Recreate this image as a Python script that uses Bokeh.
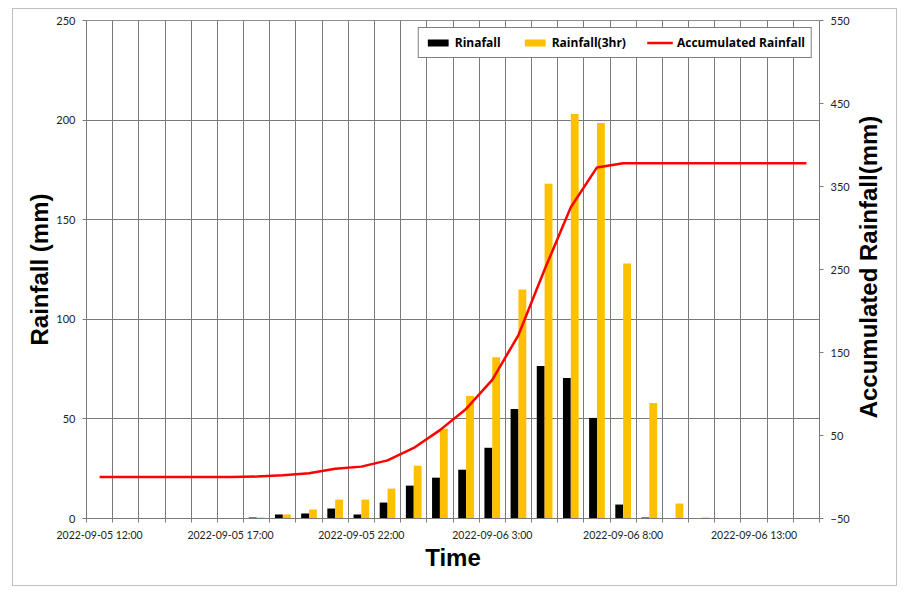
import math
from bokeh.plotting import figure
from bokeh.layouts import row
from bokeh.models import (Range1d, LinearAxis, FixedTicker, Legend, LegendItem,
                          ColumnDataSource, InlineStyleSheet)
from bokeh.core.properties import value
from bokeh.transform import dodge
from bokeh.embed import file_html
from bokeh.resources import INLINE

times = ["2022-09-05 12:00", "2022-09-05 13:00", "2022-09-05 14:00", "2022-09-05 15:00",
         "2022-09-05 16:00", "2022-09-05 17:00", "2022-09-05 18:00", "2022-09-05 19:00",
         "2022-09-05 20:00", "2022-09-05 21:00", "2022-09-05 22:00", "2022-09-05 23:00",
         "2022-09-06 0:00", "2022-09-06 1:00", "2022-09-06 2:00", "2022-09-06 3:00",
         "2022-09-06 4:00", "2022-09-06 5:00", "2022-09-06 6:00", "2022-09-06 7:00",
         "2022-09-06 8:00", "2022-09-06 9:00", "2022-09-06 10:00", "2022-09-06 11:00",
         "2022-09-06 12:00", "2022-09-06 13:00", "2022-09-06 14:00", "2022-09-06 15:00"]
rainfall = [0, 0, 0, 0, 0, 0, 0.5, 2, 2.5, 5, 2, 8, 16.5, 20.5, 24.5, 35.5, 55, 76.5,
            70.5, 50.5, 7, 0.5, 0, 0, 0, 0, 0, 0]
rainfall_3hr = [0, 0, 0, 0, 0, 0, 0.5, 2, 4.5, 9.5, 9.5, 15, 26.5, 45, 61.5, 81, 115, 168,
                203, 198.5, 128, 58, 7.5, 0.5, 0, 0, 0, 0]
accumulated = [0, 0, 0, 0, 0, 0, 0.5, 2, 4.5, 10, 12.5, 20, 35, 56.5, 82, 117, 171, 250,
               325, 373, 378, 378, 378, 378, 378, 378, 378, 378]
left_ticks = [0, 50, 100, 150, 200, 250]
right_ticks = [-50, 50, 150, 250, 350, 450, 550]
label_every = 5
right_title = "Accumulated Rainfall(mm)"

n = len(times)
src = ColumnDataSource(dict(x=list(range(n)), rain=rainfall, rain3=rainfall_3hr, acc=accumulated))

css = InlineStyleSheet(css="""
:host { position: relative; }
:host::after {
  content: ""; position: absolute; left: 12px; top: 8px; width: 885px; height: 578px;
  border: 1px solid #c0c0c0; pointer-events: none; z-index: 1000; box-sizing: border-box;
}
""")

p = figure(frame_width=733, frame_height=498,
           x_range=Range1d(-0.5, n - 0.5), y_range=Range1d(0, 250),
           output_backend="svg", toolbar_location=None,
           min_border_left=86, min_border_right=39, min_border_top=20, min_border_bottom=78,
           background_fill_color="white", border_fill_color="white")
p.outline_line_color = "#8c8c8c"
p.extra_y_ranges = {"acc": Range1d(-50, 550)}

grid_col = "#7a7a7a"
tick_font = "Lato"
p.xgrid.ticker = FixedTicker(ticks=[i - 0.5 for i in range(n + 1)])
p.xgrid.grid_line_color = grid_col
p.ygrid.ticker = FixedTicker(ticks=left_ticks)
p.ygrid.grid_line_color = grid_col

# bottom axis
xa = p.xaxis[0]
xa.ticker = FixedTicker(ticks=list(range(0, n, label_every)),
                        minor_ticks=[i - 0.5 for i in range(n + 1)])
xa.major_label_overrides = {i: times[i] for i in range(0, n, label_every)}
xa.major_tick_out = 0
xa.major_tick_in = 0
xa.minor_tick_out = 4
xa.minor_tick_in = 0
xa.minor_tick_line_color = grid_col
xa.axis_line_color = grid_col
xa.major_label_standoff = 6
xa.major_label_text_font = tick_font
xa.major_label_text_font_size = "10.5px"
xa.major_label_text_color = "#222222"
xa.axis_label = "Time"
xa.axis_label_text_font = "Liberation Sans"
xa.axis_label_text_font_style = "bold"
xa.axis_label_text_font_size = "24px"
xa.axis_label_text_color = "black"
xa.axis_label_standoff = 0

# left axis
ya = p.yaxis[0]
ya.ticker = FixedTicker(ticks=left_ticks)
ya.minor_tick_line_color = None
ya.major_tick_out = 4
ya.major_tick_in = 0
ya.major_tick_line_color = grid_col
ya.axis_line_color = grid_col
ya.major_label_standoff = 7
ya.major_label_text_font = tick_font
ya.major_label_text_font_size = "11px"
ya.major_label_text_color = "#222222"
ya.axis_label = "Rainfall (mm)"
ya.axis_label_text_font = "Liberation Sans"
ya.axis_label_text_font_style = "bold"
ya.axis_label_text_font_size = "24px"
ya.axis_label_text_color = "black"
ya.axis_label_standoff = 0

# right axis (ticks and numbers)
ra = LinearAxis(y_range_name="acc", ticker=FixedTicker(ticks=right_ticks))
ra.minor_tick_line_color = None
ra.major_tick_out = 4
ra.major_tick_in = 0
ra.major_tick_line_color = grid_col
ra.axis_line_color = grid_col
ra.major_label_standoff = 7
ra.major_label_text_font = tick_font
ra.major_label_text_font_size = "11px"
ra.major_label_text_color = "#222222"
p.add_layout(ra, "right")

b1 = p.vbar(x=dodge("x", -0.15, range=p.x_range), top="rain", width=0.3, source=src,
            fill_color="black", line_color=None)
b2 = p.vbar(x=dodge("x", 0.15, range=p.x_range), top="rain3", width=0.3, source=src,
            fill_color="#FFC000", line_color=None)
l1 = p.line(x="x", y="acc", source=src, y_range_name="acc", line_color="#FF0000", line_width=2.5)

legend = Legend(items=[LegendItem(label="Rinafall", renderers=[b1]),
                       LegendItem(label="Rainfall(3hr)", renderers=[b2]),
                       LegendItem(label="Accumulated Rainfall", renderers=[l1])],
                location="top_right", orientation="horizontal")
legend.border_line_color = "black"
legend.border_line_width = 1
legend.background_fill_color = "white"
legend.background_fill_alpha = 1
legend.label_text_font = "Open Sans"
legend.label_text_font_style = "bold"
legend.label_text_font_size = "12px"
legend.label_text_color = "black"
legend.glyph_width = 26
legend.glyph_height = 9
legend.label_height = 13
legend.label_standoff = 4
legend.spacing = 21
legend.padding = 6
legend.margin = 7
p.add_layout(legend)

# narrow companion panel holding the right-hand axis title (reads bottom-to-top)
p2 = figure(width=48, height=596, x_range=Range1d(0, 48), y_range=Range1d(0, 596),
            output_backend="svg", toolbar_location=None,
            x_axis_location=None, y_axis_location=None, min_border=0,
            background_fill_color="white", border_fill_color="white")
p2.outline_line_color = None
p2.xgrid.visible = False
p2.ygrid.visible = False
p2.text(x=[10], y=[301], text=[right_title], angle=math.pi / 2,
        text_align="center", text_baseline="middle",
        text_font=value("Liberation Sans"), text_font_style="bold",
        text_font_size="24px", text_color="black")

layout = row(p, p2, spacing=0, stylesheets=[css])
open("out.html", "w").write(file_html(layout, INLINE))
